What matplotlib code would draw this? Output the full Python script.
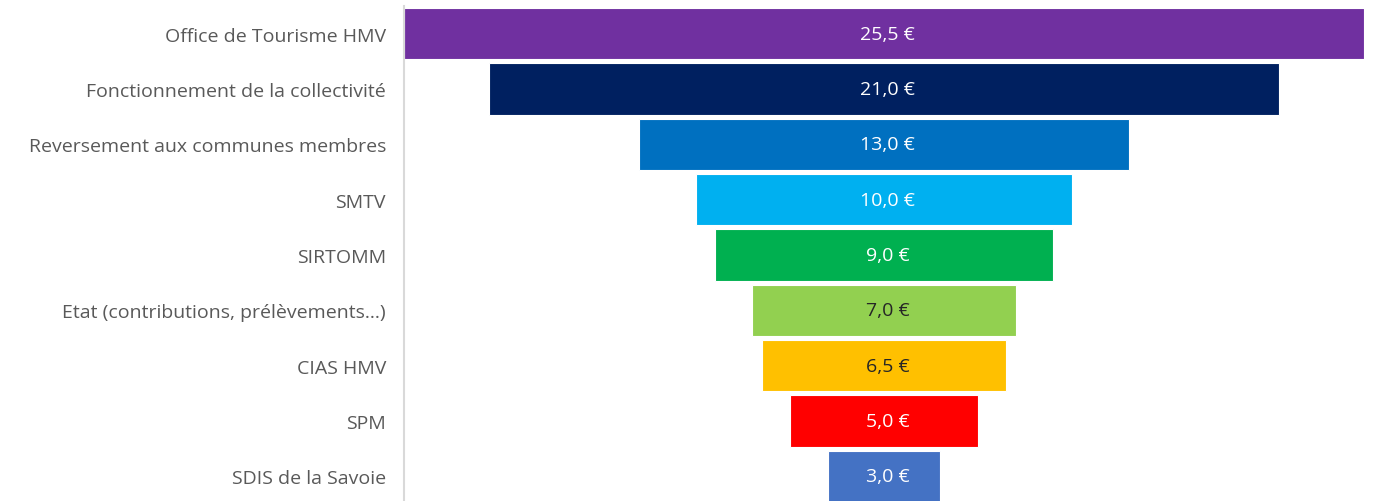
import matplotlib.pyplot as plt

labels = ["Office de Tourisme HMV", "Fonctionnement de la collectivité",
          "Reversement aux communes membres", "SMTV", "SIRTOMM",
          "Etat (contributions, prélèvements...)", "CIAS HMV", "SPM",
          "SDIS de la Savoie"]
values = [25.5, 21.0, 13.0, 10.0, 9.0, 7.0, 6.5, 5.0, 3.0]
colors = ["#7030A0", "#002060", "#0070C0", "#00B0F0", "#00B050",
          "#92D050", "#FFC000", "#FF0000", "#4472C4"]
text_colors = ["white", "white", "white", "white", "white",
               "#262626", "#262626", "white", "white"]

plt.rcParams["font.family"] = ["Open Sans", "DejaVu Sans"]

fig = plt.figure(figsize=(13.8, 5.02), dpi=100)
ax = fig.add_axes([404 / 1380, -3 / 502, 960 / 1380, 498 / 502])

vmax = max(values)
ypos = list(range(len(values)))
lefts = [(vmax - v) / 2 for v in values]
ax.barh(ypos, values, left=lefts, height=0.93, color=colors,
        edgecolor="white", linewidth=0.8)

for y, v, l, tc in zip(ypos, values, lefts, text_colors):
    ax.text(l + v / 2 + 0.1, y, f"{v:.1f} €".replace(".", ","), ha="center",
            va="center", color=tc, fontsize=14)

ax.set_xlim(0, vmax)
ax.set_ylim(len(values) - 0.5, -0.5)
ax.set_yticks(ypos)
ax.set_yticklabels(labels, fontsize=14, color="#595959")
ax.tick_params(axis="y", length=0, pad=13)
ax.set_xticks([])
for s in ["top", "right", "bottom"]:
    ax.spines[s].set_visible(False)
ax.spines["left"].set_color("#D9D9D9")
ax.spines["left"].set_linewidth(1.5)

fig.savefig("out.png", dpi=100)
